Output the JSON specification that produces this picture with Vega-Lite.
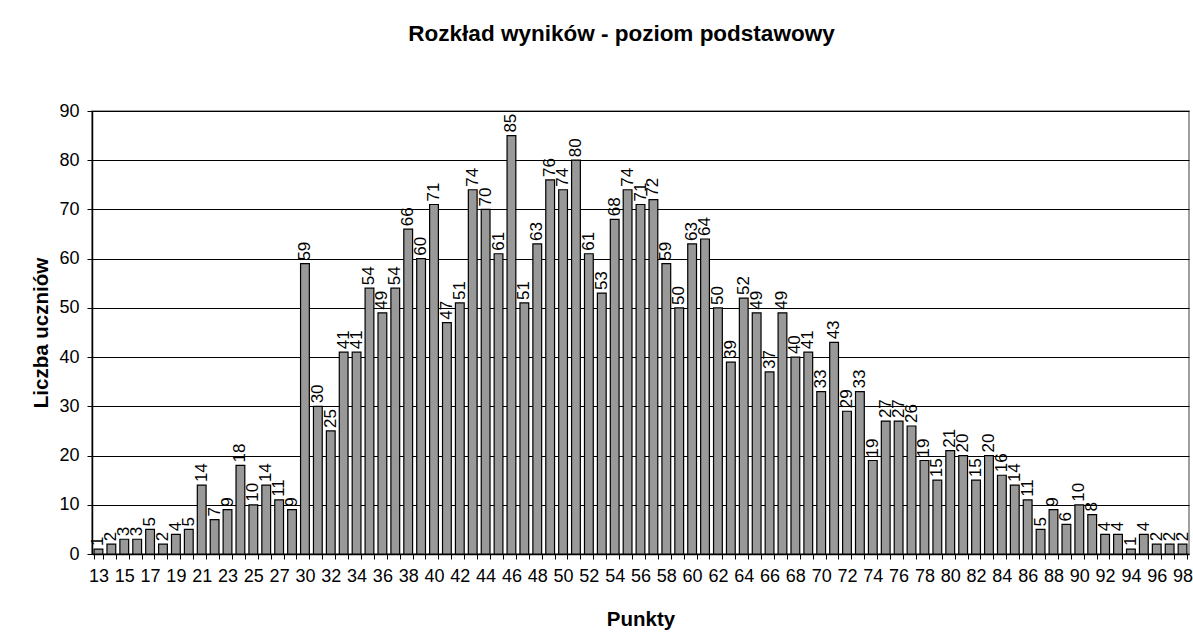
{
  "$schema": "https://vega.github.io/schema/vega-lite/v6.json",
  "width": 1097,
  "height": 443,
  "autosize": {"type": "none"},
  "padding": {"left": 92, "top": 111, "right": 4, "bottom": 89},
  "background": "white",
  "title": {
    "text": "Rozkład wyników - poziom podstawowy",
    "font": "Liberation Sans",
    "fontSize": 22.5,
    "fontWeight": "bold",
    "color": "black",
    "anchor": "middle",
    "dx": -19,
    "offset": 57
  },
  "config": {
    "view": {"stroke": "#808080", "strokeWidth": 1.5},
    "font": "Liberation Sans"
  },
  "data": {
    "values": [
      {"punkty": 13, "liczba": 1}, {"punkty": 14, "liczba": 2}, {"punkty": 15, "liczba": 3},
      {"punkty": 16, "liczba": 3}, {"punkty": 17, "liczba": 5}, {"punkty": 18, "liczba": 2},
      {"punkty": 19, "liczba": 4}, {"punkty": 20, "liczba": 5}, {"punkty": 21, "liczba": 14},
      {"punkty": 22, "liczba": 7}, {"punkty": 23, "liczba": 9}, {"punkty": 24, "liczba": 18},
      {"punkty": 25, "liczba": 10}, {"punkty": 26, "liczba": 14}, {"punkty": 27, "liczba": 11},
      {"punkty": 28, "liczba": 9}, {"punkty": 30, "liczba": 59}, {"punkty": 31, "liczba": 30},
      {"punkty": 32, "liczba": 25}, {"punkty": 33, "liczba": 41}, {"punkty": 34, "liczba": 41},
      {"punkty": 35, "liczba": 54}, {"punkty": 36, "liczba": 49}, {"punkty": 37, "liczba": 54},
      {"punkty": 38, "liczba": 66}, {"punkty": 39, "liczba": 60}, {"punkty": 40, "liczba": 71},
      {"punkty": 41, "liczba": 47}, {"punkty": 42, "liczba": 51}, {"punkty": 43, "liczba": 74},
      {"punkty": 44, "liczba": 70}, {"punkty": 45, "liczba": 61}, {"punkty": 46, "liczba": 85},
      {"punkty": 47, "liczba": 51}, {"punkty": 48, "liczba": 63}, {"punkty": 49, "liczba": 76},
      {"punkty": 50, "liczba": 74}, {"punkty": 51, "liczba": 80}, {"punkty": 52, "liczba": 61},
      {"punkty": 53, "liczba": 53}, {"punkty": 54, "liczba": 68}, {"punkty": 55, "liczba": 74},
      {"punkty": 56, "liczba": 71}, {"punkty": 57, "liczba": 72}, {"punkty": 58, "liczba": 59},
      {"punkty": 59, "liczba": 50}, {"punkty": 60, "liczba": 63}, {"punkty": 61, "liczba": 64},
      {"punkty": 62, "liczba": 50}, {"punkty": 63, "liczba": 39}, {"punkty": 64, "liczba": 52},
      {"punkty": 65, "liczba": 49}, {"punkty": 66, "liczba": 37}, {"punkty": 67, "liczba": 49},
      {"punkty": 68, "liczba": 40}, {"punkty": 69, "liczba": 41}, {"punkty": 70, "liczba": 33},
      {"punkty": 71, "liczba": 43}, {"punkty": 72, "liczba": 29}, {"punkty": 73, "liczba": 33},
      {"punkty": 74, "liczba": 19}, {"punkty": 75, "liczba": 27}, {"punkty": 76, "liczba": 27},
      {"punkty": 77, "liczba": 26}, {"punkty": 78, "liczba": 19}, {"punkty": 79, "liczba": 15},
      {"punkty": 80, "liczba": 21}, {"punkty": 81, "liczba": 20}, {"punkty": 82, "liczba": 15},
      {"punkty": 83, "liczba": 20}, {"punkty": 84, "liczba": 16}, {"punkty": 85, "liczba": 14},
      {"punkty": 86, "liczba": 11}, {"punkty": 87, "liczba": 5}, {"punkty": 88, "liczba": 9},
      {"punkty": 89, "liczba": 6}, {"punkty": 90, "liczba": 10}, {"punkty": 91, "liczba": 8},
      {"punkty": 92, "liczba": 4}, {"punkty": 93, "liczba": 4}, {"punkty": 94, "liczba": 1},
      {"punkty": 95, "liczba": 4}, {"punkty": 96, "liczba": 2}, {"punkty": 97, "liczba": 2},
      {"punkty": 98, "liczba": 2}
    ]
  },
  "encoding": {
    "x": {
      "field": "punkty",
      "type": "ordinal",
      "sort": "ascending",
      "scale": {"paddingInner": 0.32, "paddingOuter": 0.16},
      "axis": {
        "title": "Punkty",
        "titleFont": "Liberation Sans",
        "titleFontSize": 20.5,
        "titleFontWeight": "bold",
        "titleColor": "black",
        "titlePadding": 24,
        "labelFont": "Liberation Sans",
        "labelFontSize": 18,
        "labelColor": "black",
        "labelAngle": 0,
        "labelOverlap": false,
        "labelPadding": 8,
        "labelExpr": "indexof([13,15,17,19,21,23,25,27,30,32,34,36,38,40,42,44,46,48,50,52,54,56,58,60,62,64,66,68,70,72,74,76,78,80,82,84,86,88,90,92,94,96,98], datum.value) >= 0 ? datum.label : ''",
        "tickBand": "extent",
        "tickSize": 5,
        "tickColor": "black",
        "domainColor": "black",
        "domainWidth": 1.5
      }
    },
    "y": {
      "field": "liczba",
      "type": "quantitative",
      "scale": {"domain": [0, 90], "nice": false},
      "axis": {
        "title": "Liczba uczniów",
        "titleFont": "Liberation Sans",
        "titleFontSize": 20.5,
        "titleFontWeight": "bold",
        "titleColor": "black",
        "titlePadding": 7,
        "labelFont": "Liberation Sans",
        "labelFontSize": 18,
        "labelColor": "black",
        "labelPadding": 8,
        "values": [0, 10, 20, 30, 40, 50, 60, 70, 80, 90],
        "grid": true,
        "gridColor": "black",
        "gridWidth": 1,
        "tickSize": 5,
        "tickColor": "black",
        "domainColor": "black",
        "domainWidth": 1.5
      }
    }
  },
  "layer": [
    {
      "mark": {"type": "bar", "color": "#999999", "stroke": "black", "strokeWidth": 1.2}
    },
    {
      "mark": {
        "type": "text",
        "angle": 270,
        "align": "left",
        "baseline": "middle",
        "dx": 3,
        "font": "Liberation Sans",
        "fontSize": 17,
        "color": "black"
      },
      "encoding": {"text": {"field": "liczba", "type": "quantitative"}}
    }
  ]
}
